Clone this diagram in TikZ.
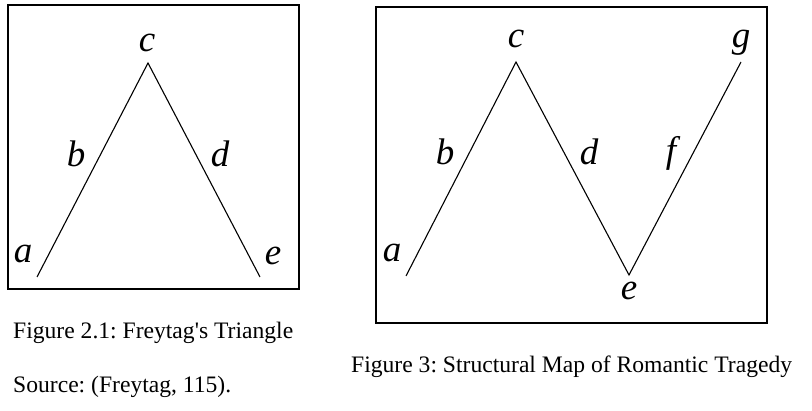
\documentclass[tikz,border=0pt]{standalone}
\usepackage{fontspec}
\setmainfont{Liberation Serif}
\begin{document}
\frenchspacing
\begin{tikzpicture}[x=1pt,y=-1pt,
  framebox/.style={draw, line width=1.4pt},
  zigzag/.style={line width=1.1pt, line join=miter},
  lbl/.style={anchor=base, inner sep=0pt, font=\fontsize{37}{37}\selectfont\itshape},
  captxt/.style={anchor=base west, inner sep=0pt, font=\fontsize{23.6}{24}\selectfont}]
\useasboundingbox (0,0) rectangle (812,411);
% frames
\draw[framebox] (8,5) rectangle (299,289);
\draw[framebox] (376,7) rectangle (767,323);
% left: Freytag's triangle
\coordinate (La) at (37,277);
\coordinate (Lc) at (148,63);
\coordinate (Le) at (260,277);
\draw[zigzag] (La) -- (Lc) -- (Le);
\node[lbl] (la) at (23,263) {a};
\node[lbl] (lb) at (76,167) {b};
\node[lbl] (lc) at (147,52) {c};
\node[lbl] (ld) at (220,167) {d};
\node[lbl] (le) at (273,265) {e};
% right: structural map
\coordinate (Ra) at (406,276);
\coordinate (Rc) at (516,62);
\coordinate (Re) at (629,275);
\coordinate (Rg) at (741,62);
\draw[zigzag] (Ra) -- (Rc) -- (Re) -- (Rg);
\node[lbl] (ra) at (392,262) {a};
\node[lbl] (rb) at (445,165) {b};
\node[lbl] (rc) at (516,48) {c};
\node[lbl] (rd) at (589,165) {d};
\node[lbl] (rf) at (671,163) {f};
\node[lbl] (rg) at (741,48) {g};
\node[lbl] (re) at (629,300) {e};
% captions
\node[captxt] (cap1) at (13,339) {Figure 2.1: Freytag\textquotesingle s Triangle};
\node[captxt] (src) at (13,393) {Source: (Freytag, 115).};
\node[captxt] (cap2) at (351,373) {Figure 3: Structural Map of Romantic Tragedy};
\end{tikzpicture}
\end{document}
